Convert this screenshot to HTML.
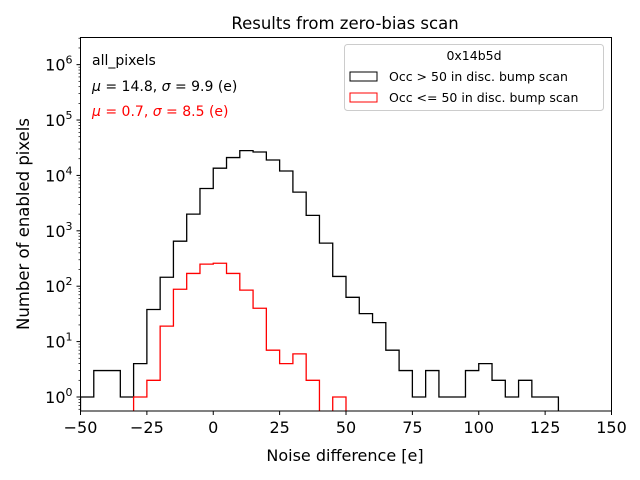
<!DOCTYPE html>
<html><head><meta charset="utf-8"><style>
body{margin:0;background:#fff}
svg{display:block;font-family:"DejaVu Sans","Liberation Sans",sans-serif}
</style></head><body>
<svg id="c" width="640" height="480" xmlns="http://www.w3.org/2000/svg">
<rect width="640" height="480" fill="#fff"/>
<text x="345" y="29" text-anchor="middle" font-size="16.5">Results from zero-bias scan</text>
<g id="plot"></g>
<rect x="80.5" y="37.5" width="531" height="373.5" fill="none" stroke="#000" stroke-width="1"/>
<g id="ticks" font-size="16"></g>
<text x="345" y="461" text-anchor="middle" font-size="16">Noise difference [e]</text>
<text transform="translate(29,224) rotate(-90)" text-anchor="middle" font-size="16.5">Number of enabled pixels</text>
<text x="92" y="65" font-size="14">all_pixels</text>
<text x="92" y="91" font-size="14"><tspan font-style="italic">μ</tspan> = 14.8, <tspan font-style="italic">σ</tspan> = 9.9 (e)</text>
<text x="92" y="116" font-size="14" fill="#f00"><tspan font-style="italic">μ</tspan> = 0.7, <tspan font-style="italic">σ</tspan> = 8.5 (e)</text>
<g>
<rect x="344.5" y="44.5" width="259" height="66" rx="3" fill="#fff" fill-opacity="0.8" stroke="#ccc"/>
<text x="474" y="60" text-anchor="middle" font-size="12.5">0x14b5d</text>
<rect x="350" y="72" width="27" height="9" fill="none" stroke="#000"/>
<text x="389" y="81" font-size="12.5">Occ &gt; 50 in disc. bump scan</text>
<rect x="350" y="93" width="27" height="9" fill="none" stroke="#f00"/>
<text x="389" y="102" font-size="12.5">Occ &lt;= 50 in disc. bump scan</text>
</g>
</svg>
<script>
const blackStart = -50;
const blackCounts = [1,3,3,1,4,38,145,650,2000,5800,13500,21000,28000,26500,19000,12000,5000,1900,600,150,63,32,22,7,3,1,3,1,1,3,4,2,1,2,1,1];
const redStart = -30;
const redCounts = [1,2,19,88,170,250,260,170,85,40,7,4,6,2,0,1];
const binWidth = 5;
const xTicks = [-50,-25,0,25,50,75,100,125,150];
const yTickExps = [0,1,2,3,4,5,6];

const NS="http://www.w3.org/2000/svg";
const L=80.5,R=611.5,T=37.5,B=411;
const xMin=-50,xMax=150, yMinLog=-0.253, yMaxLog=6.49;
const xs=v=>L+(v-xMin)*(R-L)/(xMax-xMin);
const ys=v=>v<=0?B+5:B-(Math.log10(v)-yMinLog)*(B-T)/(yMaxLog-yMinLog);
const plot=document.getElementById('plot');
const ticks=document.getElementById('ticks');

function stepPath(start,counts){
  let d='M'+xs(start)+','+(B+5);
  counts.forEach((c,i)=>{
    const x0=xs(start+i*binWidth), x1=xs(start+(i+1)*binWidth), y=ys(c);
    d+=' L'+x0+','+y+' L'+x1+','+y;
  });
  d+=' L'+xs(start+counts.length*binWidth)+','+(B+5);
  return d;
}
const clip=document.createElementNS(NS,'clipPath');clip.setAttribute('id','cp');
const cr=document.createElementNS(NS,'rect');cr.setAttribute('x',L);cr.setAttribute('y',T);cr.setAttribute('width',R-L);cr.setAttribute('height',B-T);
clip.appendChild(cr);plot.appendChild(clip);
[[blackStart,blackCounts,'#000','black-histogram'],[redStart,redCounts,'#f00','red-histogram']].forEach(([s,c,col,n])=>{
  const p=document.createElementNS(NS,'path');
  p.setAttribute('d',stepPath(s,c));p.setAttribute('fill','none');p.setAttribute('stroke',col);p.setAttribute('stroke-width','1.3');
  p.setAttribute('clip-path','url(#cp)');
  
  
  plot.appendChild(p);
});
xTicks.forEach(v=>{
  const x=xs(v);
  const l=document.createElementNS(NS,'line');
  l.setAttribute('x1',x);l.setAttribute('x2',x);l.setAttribute('y1',B);l.setAttribute('y2',B+4);l.setAttribute('stroke','#000');
  ticks.appendChild(l);
  const t=document.createElementNS(NS,'text');
  t.setAttribute('x',x);t.setAttribute('y',B+22);t.setAttribute('text-anchor','middle');t.textContent=v<0?'\u2212'+(-v):v;
  
  
  ticks.appendChild(t);
});
for(let e=-1;e<=6;e++){
  for(let m=1;m<10;m++){
    const v=m*Math.pow(10,e), lv=Math.log10(v);
    if(lv<yMinLog||lv>yMaxLog)continue;
    const y=ys(v);
    const l=document.createElementNS(NS,'line');
    l.setAttribute('x1',L-(m===1?4:2));l.setAttribute('x2',L);l.setAttribute('y1',y);l.setAttribute('y2',y);l.setAttribute('stroke','#000');l.setAttribute('stroke-width',m===1?1:0.7);
    ticks.appendChild(l);
  }
}
yTickExps.forEach(e=>{
  const y=ys(Math.pow(10,e));
  const t=document.createElementNS(NS,'text');
  t.setAttribute('x',L-8);t.setAttribute('y',y+6);t.setAttribute('text-anchor','end');
  t.innerHTML='10<tspan dy="-7" font-size="11">'+e+'</tspan>';
  
  
  ticks.appendChild(t);
});
</script>
</body></html>
